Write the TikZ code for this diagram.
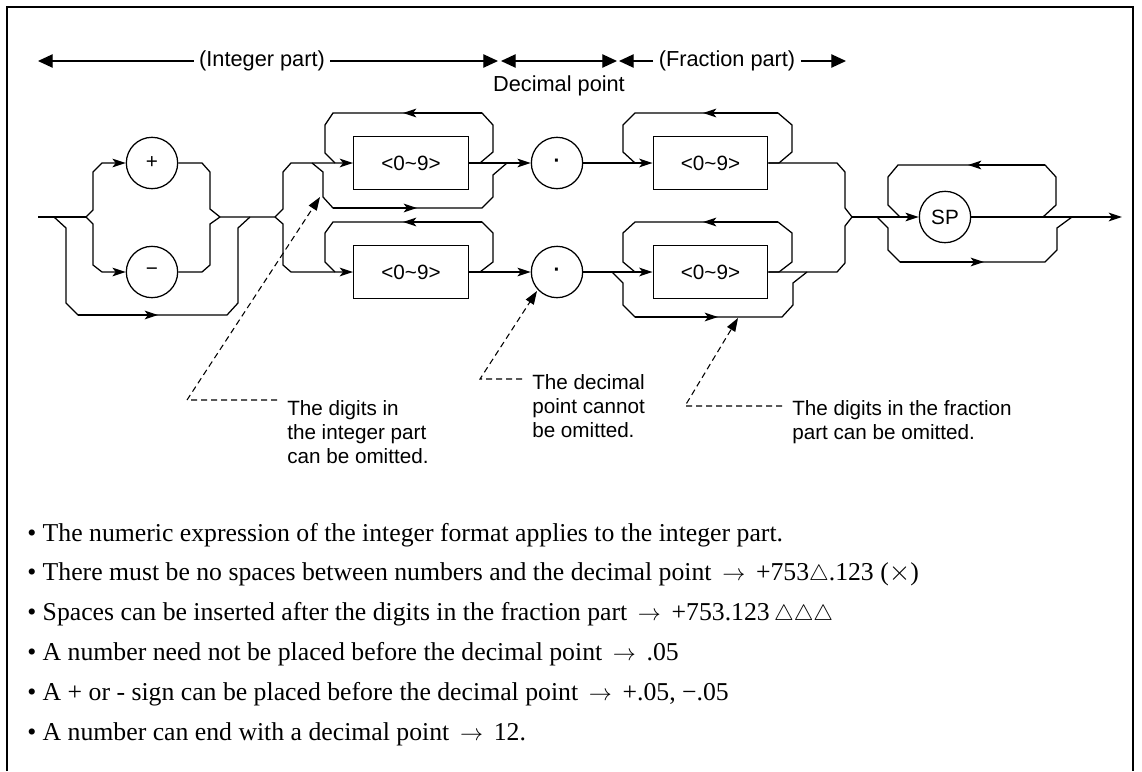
\documentclass[tikz,border=0pt]{standalone}
\usepackage{fontspec}
\setmainfont{Liberation Serif}
\newfontfamily\hv{Liberation Sans}
\usetikzlibrary{arrows.meta}
\tikzset{
  rrtip/.tip={Stealth[length=10pt,width=6.5pt,inset=2.5pt]},
  hdtip/.tip={Triangle[length=11pt,width=10pt]},
  ldtip/.tip={Triangle[length=10pt,width=7pt]},
}
\newcommand{\myarr}{\,~{\fontsize{16}{16}\selectfont$\rightarrow$}~\,}
\newcommand{\mytri}{\scalebox{0.8}{$\triangle$}}
\begin{document}
\begin{tikzpicture}[x=0.75pt,y=-0.75pt,
  track/.style={line width=0.95pt, line join=miter},
  ra/.style={track,-rrtip},
  term/.style={draw,line width=0.95pt,circle,minimum size=38.5pt,inner sep=0pt,font=\hv\fontsize{15.5}{18}\selectfont},
  digitbox/.style={draw,line width=0.95pt,rectangle,minimum width=86pt,minimum height=40pt,inner sep=0pt,font=\hv\fontsize{15.5}{18}\selectfont},
  hdr/.style={line width=0.95pt},
  hdrtext/.style={font=\hv\fontsize{16.3}{18}\selectfont, inner xsep=4pt, inner ysep=0pt},
  lbl/.style={font=\hv\fontsize{15.5}{18.2}\selectfont, inner sep=0pt, align=left},
  leader/.style={line width=0.8pt, dash pattern=on 4.5pt off 3pt},
  note/.style={font=\fontsize{19.3}{23}\selectfont, inner sep=0pt, anchor=base west}
]
\path[use as bounding box, fill=white] (0,0) rectangle (1142,771);
\draw[line width=1.2pt] (7,771) -- (7,7) -- (1133,7) -- (1133,771);

% ---------- header ----------
\node[hdrtext] (ip) at (262,61) {(Integer part)};
\coordinate (ipL) at (38,61);
\coordinate (ipR) at (498,61);
\draw[hdr,-hdtip] (ip.west) -- (ipL);
\draw[hdr,-hdtip] (ip.east) -- (ipR);
\node[hdrtext,anchor=base] (dp) at (559,91) {Decimal point};
\coordinate (dpL) at (501,61);
\coordinate (dpR) at (617,61);
\draw[hdr,hdtip-hdtip] (dpL) -- (dpR);
\node[hdrtext] (fp) at (727,61) {(Fraction part)};
\coordinate (fpL) at (619,61);
\coordinate (fpR) at (846,61);
\draw[hdr,-hdtip] (fp.west) -- (fpL);
\draw[hdr,-hdtip] (fp.east) -- (fpR);

% ---------- nodes ----------
\node[term] (plus) at (152,163) {+};
\node[term] (minus) at (152,272) {\char"2212};
\node[digitbox] (box1) at (411,163) {<0\textasciitilde 9>};
\node[digitbox] (box2) at (411,272) {<0\textasciitilde 9>};
\node[term] (dot1) at (557,163) {\bfseries\char"00B7};
\node[term] (dot2) at (557,272) {\bfseries\char"00B7};
\node[digitbox] (box3) at (710.5,163) {<0\textasciitilde 9>};
\node[digitbox] (box4) at (710.5,272) {<0\textasciitilde 9>};
\node[term] (sp) at (945,217) {SP};

% ---------- sign section ----------
\coordinate (s0) at (38,217);
\coordinate (s1) at (86,217);
\draw[track] (s0) -- (s1);
\draw[ra] (s1) -- (93,210) -- (93,172) -- (102,163) -- (plus.west);
\draw[ra] (s1) -- (93,224) -- (93,265) -- (102,272) -- (minus.west);
\draw[track] (plus.east) -- (202,163) -- (210,172) -- (210,209) -- (220,217);
\draw[track] (minus.east) -- (202,272) -- (210,265) -- (210,224) -- (220,217) -- (275,217);
\draw[track] (54,217) -- (66,228) -- (66,303) -- (78,315) -- (227,315) -- (238,303) -- (238,228) -- (250,217);
\draw[ra] (78,315) -- (158,315);

% ---------- integer digits ----------
\draw[ra] (275,217) -- (283,209) -- (283,172) -- (291,163) -- (box1.west);
\draw[ra] (275,217) -- (283,224) -- (283,265) -- (291,272) -- (box2.west);
\draw[track] (box1.east) -- (480,163) -- (493,152) -- (493,125) -- (482,113) -- (333,113) -- (325,125) -- (325,153) -- (335,163);
\draw[ra] (482,113) -- (403,113);
\draw[track] (312,163) -- (323,172) -- (323,197) -- (333,208) -- (482,208) -- (493,197) -- (493,175) -- (507,163);
\draw[ra] (333,208) -- (417,208);
\draw[ra] (box1.east) -- (dot1.west);
\draw[track] (box2.east) -- (480,272) -- (493,262) -- (493,233) -- (482,222) -- (333,222) -- (325,233) -- (325,262) -- (335,272);
\draw[ra] (482,222) -- (403,222);
\draw[ra] (box2.east) -- (dot2.west);

% ---------- fraction digits ----------
\draw[ra] (dot1.east) -- (box3.west);
\draw[track] (box3.east) -- (779,163) -- (792,152) -- (792,125) -- (778,113) -- (635,113) -- (623,125) -- (623,152) -- (635,163);
\draw[ra] (778,113) -- (703,113);
\draw[track] (box3.east) -- (837,163) -- (845,172) -- (845,208) -- (852,217);
\draw[ra] (dot2.east) -- (box4.west);
\draw[track] (box4.east) -- (779,272) -- (792,262) -- (792,233) -- (778,222) -- (635,222) -- (623,233) -- (623,262) -- (635,272);
\draw[ra] (778,222) -- (703,222);
\draw[track] (612,272) -- (623,283) -- (623,305) -- (635,317) -- (782,317) -- (793,305) -- (793,283) -- (807,272);
\draw[ra] (635,317) -- (718,317);
\draw[track] (box4.east) -- (837,272) -- (845,263) -- (845,226) -- (852,217);

% ---------- SP ----------
\coordinate (out) at (1122,217);
\draw[ra] (852,217) -- (sp.west);
\draw[ra] (sp.east) -- (out);
\draw[track] (1043,217) -- (1056,205) -- (1056,177) -- (1045,165) -- (898,165) -- (888,177) -- (888,205) -- (900,217);
\draw[ra] (1045,165) -- (968,165);
\draw[track] (877,217) -- (888,228) -- (888,250) -- (900,262) -- (1045,262) -- (1057,250) -- (1057,228) -- (1072,217);
\draw[ra] (900,262) -- (984,262);

% ---------- annotations ----------
\node[lbl,anchor=north west] (n1) at (287,400) {The digits in\\the integer part\\can be omitted.};
\coordinate (l1a) at (277,400);
\coordinate (l1b) at (187,400);
\coordinate (l1c) at (320,197);
\draw[leader,-ldtip] (l1a) -- (l1b) -- (l1c);

\node[lbl,anchor=north west] (n2) at (532,374) {The decimal\\point cannot\\be omitted.};
\coordinate (l2a) at (522,379);
\coordinate (l2b) at (480,379);
\coordinate (l2c) at (537,291);
\draw[leader,-ldtip] (l2a) -- (l2b) -- (l2c);

\node[lbl,anchor=north west] (n3) at (792,400) {The digits in the fraction\\part can be omitted.};
\coordinate (l3a) at (782,406);
\coordinate (l3b) at (685,406);
\coordinate (l3c) at (738,318);
\draw[leader,-ldtip] (l3a) -- (l3b) -- (l3c);

% ---------- notes ----------
\node[note] (b1) at (27,541) {• The numeric expression of the integer format applies to the integer part.};
\node[note] (b2) at (27,580) {• There must be no spaces between numbers and the decimal point\myarr+753\mytri.123 ($\times$)};
\node[note] (b3) at (27,620) {• Spaces can be inserted after the digits in the fraction part\myarr+753.123\,\mytri\mytri\mytri};
\node[note] (b4) at (27,660) {• A number need not be placed before the decimal point\myarr.05};
\node[note] (b5) at (27,700) {• A + or - sign can be placed before the decimal point\myarr+.05, \char"2212.05};
\node[note] (b6) at (27,740) {• A number can end with a decimal point\myarr12.};
\end{tikzpicture}
\end{document}
